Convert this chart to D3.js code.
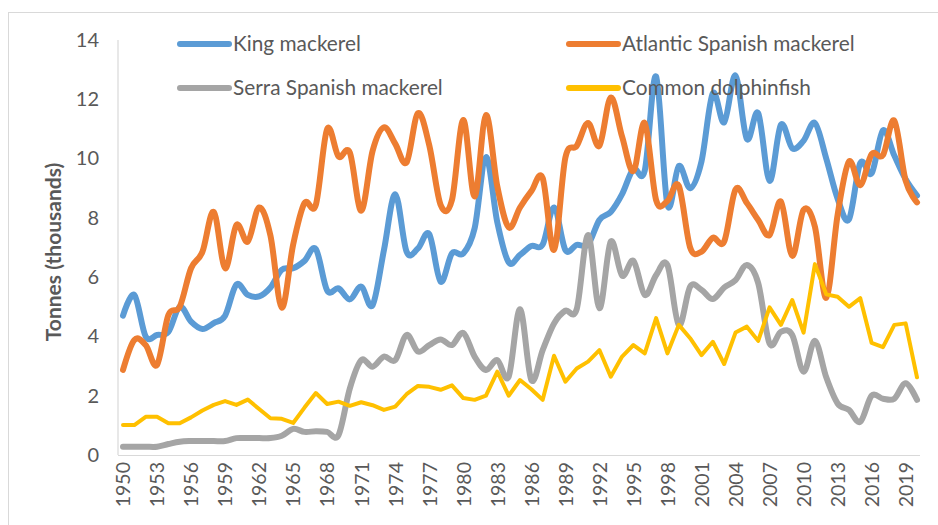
<!DOCTYPE html>
<html>
<head>
<meta charset="utf-8">
<script src="https://cdn.jsdelivr.net/npm/d3@7"></script>
<style>
  html, body { margin: 0; padding: 0; background: #fff; }
  svg { display: block; }
  text { font-family: Lato, "Open Sans", "Liberation Sans", sans-serif; fill: #595959; }
</style>
</head>
<body>
<svg id="chart" width="938" height="525"></svg>
<script>
const years = d3.range(1950, 2021);
const xTickYears = d3.range(1950, 2021, 3);
const yTicks = [0, 2, 4, 6, 8, 10, 12, 14];
const seriesNames = ["King mackerel", "Atlantic Spanish mackerel", "Serra Spanish mackerel", "Common dolphinfish"];

const kingMackerel = [4.7,5.4,4.0,4.05,4.15,5.0,4.5,4.25,4.45,4.7,
  5.75,5.4,5.35,5.65,6.25,6.3,6.55,6.95,5.55,5.62,
  5.25,5.68,5.05,6.9,8.8,6.86,6.97,7.45,5.85,6.8,
  6.8,7.65,10.05,7.85,6.5,6.75,7.05,7.1,8.35,6.92,
  7.09,7.1,7.93,8.2,8.8,9.65,9.6,12.77,8.44,9.75,
  9.0,9.9,12.2,11.22,12.8,10.66,11.53,9.25,11.14,10.35,
  10.6,11.2,10.0,8.65,7.95,9.85,9.5,10.95,10.1,9.3,8.75];
const atlanticSpanish = [2.87,3.88,3.71,3.04,4.72,5.0,6.3,6.85,8.2,6.3,
  7.76,7.2,8.35,7.4,4.97,7.1,8.5,8.44,11.0,10.07,
  10.2,8.24,10.25,11.05,10.5,9.87,11.53,10.45,8.44,8.6,
  11.3,8.72,11.47,9.06,7.68,8.35,8.9,9.34,6.92,10.03,
  10.43,11.2,10.43,12.06,10.74,9.58,11.2,8.6,8.57,9.08,
  7.0,6.86,7.33,7.2,8.96,8.5,7.93,7.42,8.55,6.72,
  8.27,7.7,5.3,8.1,9.9,9.1,10.15,10.12,11.28,9.25,8.52];
const serraSpanish = [0.28,0.28,0.28,0.28,0.37,0.45,0.47,0.47,0.47,0.47,
  0.57,0.57,0.57,0.57,0.65,0.88,0.78,0.8,0.78,0.67,
  2.25,3.2,2.98,3.32,3.2,4.05,3.49,3.71,3.9,3.71,
  4.12,3.32,2.87,3.2,2.64,4.92,2.53,3.54,4.44,4.87,
  4.92,7.42,4.95,7.2,6.05,6.55,5.4,6.07,6.41,4.38,
  5.68,5.57,5.26,5.65,5.9,6.41,5.8,3.76,4.16,4.05,
  2.81,3.85,2.62,1.74,1.52,1.12,2.0,1.9,1.9,2.42,1.86];
const commonDolphinfish = [1.01,1.01,1.29,1.29,1.07,1.07,1.27,1.5,1.69,1.82,
  1.69,1.87,1.55,1.24,1.22,1.08,1.6,2.09,1.72,1.8,
  1.66,1.78,1.68,1.52,1.63,2.05,2.33,2.3,2.2,2.35,
  1.92,1.86,2.0,2.81,2.0,2.53,2.22,1.86,3.35,2.47,
  2.92,3.15,3.54,2.64,3.32,3.71,3.43,4.62,3.43,4.39,
  3.94,3.37,3.82,3.07,4.13,4.33,3.85,4.98,4.39,5.23,
  4.13,6.44,5.42,5.34,5.0,5.29,3.78,3.64,4.39,4.44,2.62];

const series = [
  { name: seriesNames[0], values: kingMackerel, color: "#5B9BD5", width: 6, smooth: true, lx: 178, ly: 44 },
  { name: seriesNames[1], values: atlanticSpanish, color: "#ED7D31", width: 6, smooth: true, lx: 567, ly: 44 },
  { name: seriesNames[2], values: serraSpanish, color: "#A5A5A5", width: 6, smooth: true, lx: 178, ly: 88 },
  { name: seriesNames[3], values: commonDolphinfish, color: "#FFC000", width: 4, smooth: false, lx: 567, ly: 88 }
];

const svg = d3.select("#chart");

// chart border
svg.append("rect").attr("x", 8.5).attr("y", 12.5).attr("width", 960).attr("height", 560)
  .attr("fill", "none").attr("stroke", "#d9d9d9").attr("stroke-width", 1);

const x = d3.scalePoint().domain(years).range([123, 917]);
const y = d3.scaleLinear().domain([0, 14]).range([455, 40]);

// axes lines
svg.append("line").attr("x1", 118).attr("x2", 118).attr("y1", 40).attr("y2", 455)
  .attr("stroke", "#d9d9d9").attr("stroke-width", 1.2);
svg.append("line").attr("x1", 118).attr("x2", 920).attr("y1", 455.5).attr("y2", 455.5)
  .attr("stroke", "#d9d9d9").attr("stroke-width", 1.2);

// y tick labels
const yAxis = d3.axisLeft(y).tickValues(yTicks).tickSize(0).tickPadding(0);
const yg = svg.append("g").attr("transform", "translate(99,0)").call(yAxis);
yg.select(".domain").remove();
yg.selectAll("text").style("font-size", "20px").style("font-family", "Lato, sans-serif").attr("fill", "#595959");

// x tick labels
const xAxis = d3.axisBottom(x).tickValues(xTickYears).tickSize(0).tickPadding(0);
const xg = svg.append("g").attr("transform", "translate(0,462)").call(xAxis);
xg.select(".domain").remove();
xg.selectAll("text")
  .style("font-size", "19.5px").style("font-family", "Lato, sans-serif").attr("fill", "#595959")
  .attr("transform", "rotate(-90)")
  .attr("text-anchor", "end")
  .attr("dy", "0.35em")
  .attr("x", 0).attr("y", 0);

// axis title
svg.append("text")
  .attr("transform", "translate(61,252) rotate(-90)")
  .attr("text-anchor", "middle")
  .style("font-size", "21px").style("font-weight", "bold")
  .text("Tonnes (thousands)");

// lines
const g = svg.append("g");
series.forEach(s => {
  const line = d3.line()
    .x((d, i) => x(years[i]))
    .y(d => y(d))
    .curve(s.smooth ? d3.curveCatmullRom.alpha(0) : d3.curveLinear);
  g.append("path").datum(s.values)
    .attr("d", line)
    .attr("fill", "none")
    .attr("stroke", s.color)
    .attr("stroke-width", s.width)
    .attr("stroke-linejoin", "round")
    .attr("stroke-linecap", "round");
});

// legend
const lg = svg.append("g");
series.forEach(s => {
  lg.append("line").attr("x1", 180).attr("x2", 229)
    .attr("transform", `translate(${s.lx - 178},${s.ly})`)
    .attr("stroke", s.color).attr("stroke-width", 6).attr("stroke-linecap", "round");
  lg.append("text").attr("x", s.lx + 55).attr("y", s.ly).attr("dy", "0.35em")
    .style("font-size", "20.8px").text(s.name);
});
</script>
</body>
</html>
